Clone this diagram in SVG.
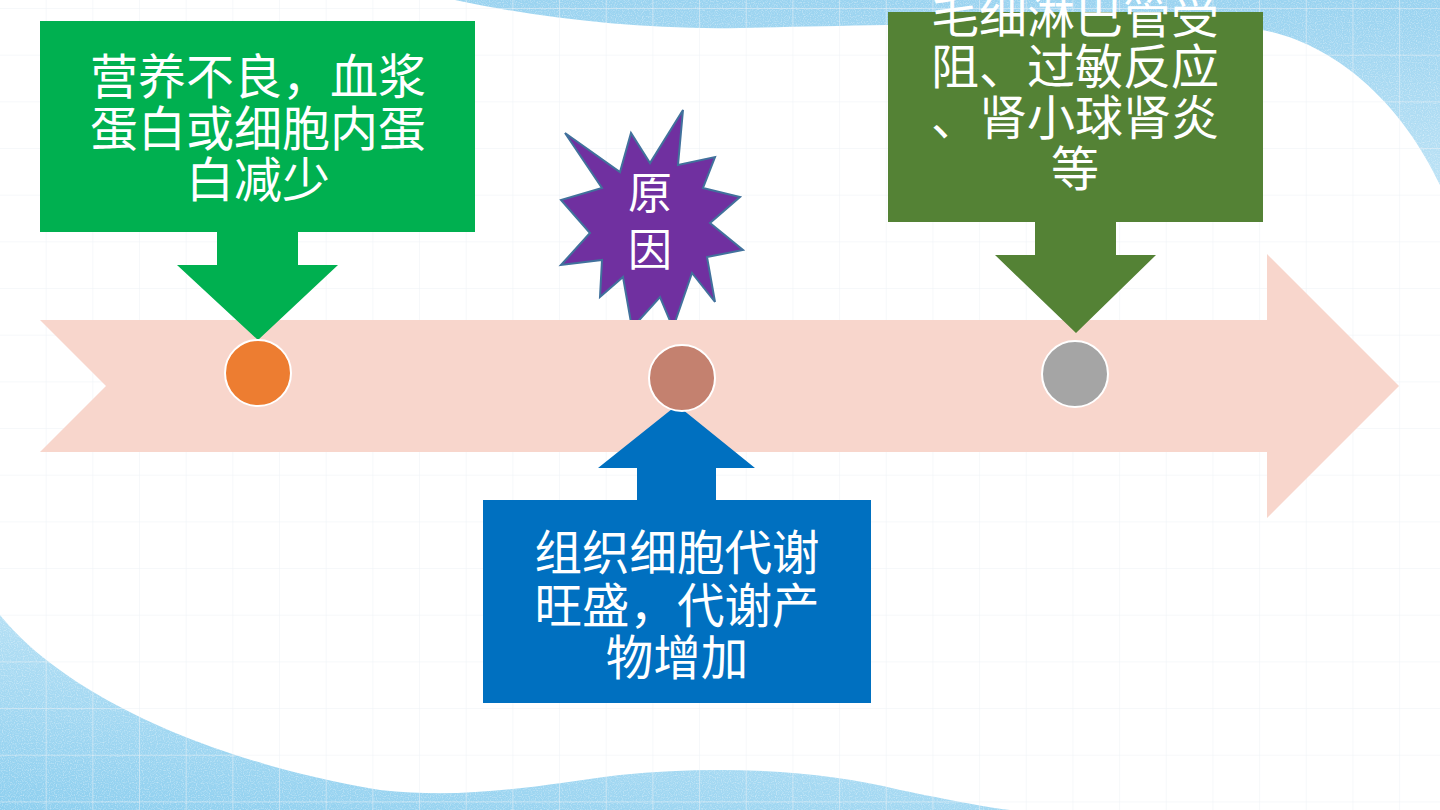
<svg xmlns="http://www.w3.org/2000/svg" width="1440" height="810" viewBox="0 0 1440 810">
<defs>
<style>
.t{font-family:"Noto Sans CJK SC","Noto Sans",sans-serif;fill:#FFFFFF;text-anchor:middle}
.t48{font-size:48px}
.dot{stroke:#FFFFFF;stroke-width:2}
</style>
<pattern id="grid" width="46.67" height="46.67" patternUnits="userSpaceOnUse" x="0" y="9">
<path d="M46.67 0 V46.67 M0 46.67 H46.67" fill="none" stroke="#EDF2F6" stroke-width="1"/>
</pattern>
<linearGradient id="gTop" x1="0" y1="0" x2="0" y2="1">
<stop offset="0" stop-color="#9AD3F0"/>
<stop offset="1" stop-color="#BCE2F5"/>
</linearGradient>
<linearGradient id="gBot" x1="0" y1="1" x2="0.6" y2="0">
<stop offset="0" stop-color="#8ECFEF"/>
<stop offset="1" stop-color="#C2E5F6"/>
</linearGradient>
<filter id="speckle" x="0" y="0" width="100%" height="100%">
<feTurbulence type="fractalNoise" baseFrequency="0.85" numOctaves="1" seed="3" result="n"/>
<feColorMatrix in="n" type="matrix" values="0 0 0 0 1  0 0 0 0 1  0 0 0 0 1  0 0 0 1.6 -0.75" result="w"/>
<feComposite in="w" in2="SourceGraphic" operator="in"/>
</filter>
</defs>

<g id="background">
<rect x="0" y="0" width="1440" height="810" fill="#FFFFFF"/>
<path id="blobTop" d="M455 0 C540 18 640 30 740 28 C900 25 1150 18 1250 28 C1330 38 1400 100 1440 185 L1440 0 Z" fill="url(#gTop)"/>
<path d="M455 0 C540 18 640 30 740 28 C900 25 1150 18 1250 28 C1330 38 1400 100 1440 185 L1440 0 Z" fill="#FFFFFF" filter="url(#speckle)" opacity="0.7"/>
<path id="blobBottom" d="M0 615 C60 690 200 760 380 790 C470 800 540 785 620 775 C720 765 820 770 900 790 C950 800 990 808 1010 810 L0 810 Z" fill="url(#gBot)"/>
<path d="M0 615 C60 690 200 760 380 790 C470 800 540 785 620 775 C720 765 820 770 900 790 C950 800 990 808 1010 810 L0 810 Z" fill="#FFFFFF" filter="url(#speckle)" opacity="0.7"/>
<rect x="0" y="0" width="1440" height="810" fill="url(#grid)"/>
</g>

<g id="node-star">
<polygon points="683,110 678,165 715,157 703,188 740,197 710,223 743,250 707,257 715,302 692,273 673,328 660,297 632,328 623,277 600,297 602,260 561,265 590,233 561,200 602,188 565,133 620,172 631,133 650,163" fill="#7030A0" stroke="#41719C" stroke-width="2" stroke-linejoin="miter"/>
<text class="t" x="650" y="209" font-size="44">原</text>
<text class="t" x="650" y="266" font-size="44">因</text>
</g>

<g id="connectors">
<polygon id="timeline" points="40,320 1267,320 1267,254 1399,386 1267,518 1267,452 40,452 106,386" fill="#F8D6CC"/>
</g>

<g id="node-left">
<polygon points="40,21 475,21 475,232 298,232 298,265 338,265 258,340 177,265 217,265 217,232 40,232" fill="#00B050"/>
<text class="t t48" x="258" y="94">营养不良，血浆</text>
<text class="t t48" x="258" y="146">蛋白或细胞内蛋</text>
<text class="t t48" x="258" y="197">白减少</text>
</g>

<g id="node-right">
<polygon points="888,12 1263,12 1263,222 1116,222 1116,255 1156,255 1076,333 995,255 1035,255 1035,222 888,222" fill="#548235"/>
<text class="t t48" x="1075" y="33">毛细淋巴管受</text>
<text class="t t48" x="1075" y="84">阻、过敏反应</text>
<text class="t t48" x="1075" y="135">、肾小球肾炎</text>
<text class="t t48" x="1075" y="186">等</text>
</g>

<g id="node-bottom">
<polygon points="483,500 637,500 637,468 598,468 677,405 755,468 716,468 716,500 871,500 871,703 483,703" fill="#0070C0"/>
<text class="t" x="677" y="570" font-size="47.5">组织细胞代谢</text>
<text class="t" x="677" y="623" font-size="47.5">旺盛，代谢产</text>
<text class="t" x="677" y="675" font-size="47.5">物增加</text>
</g>

<g id="node-dot1"><circle class="dot" cx="258" cy="373" r="33" fill="#ED7D31"/></g>
<g id="node-dot2"><circle class="dot" cx="682" cy="378" r="33" fill="#C4816F"/></g>
<g id="node-dot3"><circle class="dot" cx="1075" cy="374" r="33" fill="#A5A5A5"/></g>
</svg>
